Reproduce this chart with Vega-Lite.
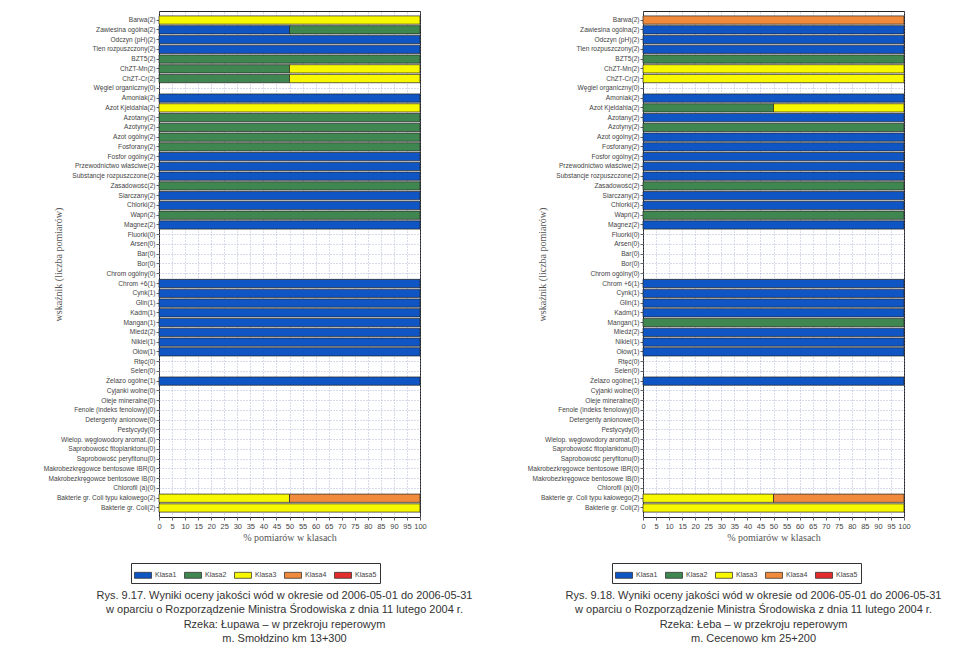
{
  "$schema": "https://vega.github.io/schema/vega-lite/v6.json",
  "background": "white",
  "padding": {"left": 42, "top": 10, "right": 5, "bottom": 5},
  "bounds": "flush",
  "spacing": 223,
  "datasets": {
    "lupawa": [
      {"wskaznik": "Barwa(2)", "klasa": "Klasa3", "procent": 100},
      {"wskaznik": "Zawiesina ogólna(2)", "klasa": "Klasa1", "procent": 50},
      {"wskaznik": "Zawiesina ogólna(2)", "klasa": "Klasa2", "procent": 50},
      {"wskaznik": "Odczyn (pH)(2)", "klasa": "Klasa1", "procent": 100},
      {"wskaznik": "Tlen rozpuszczony(2)", "klasa": "Klasa1", "procent": 100},
      {"wskaznik": "BZT5(2)", "klasa": "Klasa2", "procent": 100},
      {"wskaznik": "ChZT-Mn(2)", "klasa": "Klasa2", "procent": 50},
      {"wskaznik": "ChZT-Mn(2)", "klasa": "Klasa3", "procent": 50},
      {"wskaznik": "ChZT-Cr(2)", "klasa": "Klasa2", "procent": 50},
      {"wskaznik": "ChZT-Cr(2)", "klasa": "Klasa3", "procent": 50},
      {"wskaznik": "Amoniak(2)", "klasa": "Klasa1", "procent": 100},
      {"wskaznik": "Azot Kjeldahla(2)", "klasa": "Klasa3", "procent": 100},
      {"wskaznik": "Azotany(2)", "klasa": "Klasa2", "procent": 100},
      {"wskaznik": "Azotyny(2)", "klasa": "Klasa2", "procent": 100},
      {"wskaznik": "Azot ogólny(2)", "klasa": "Klasa2", "procent": 100},
      {"wskaznik": "Fosforany(2)", "klasa": "Klasa2", "procent": 100},
      {"wskaznik": "Fosfor ogólny(2)", "klasa": "Klasa1", "procent": 100},
      {"wskaznik": "Przewodnictwo właściwe(2)", "klasa": "Klasa1", "procent": 100},
      {"wskaznik": "Substancje rozpuszczone(2)", "klasa": "Klasa1", "procent": 100},
      {"wskaznik": "Zasadowość(2)", "klasa": "Klasa2", "procent": 100},
      {"wskaznik": "Siarczany(2)", "klasa": "Klasa1", "procent": 100},
      {"wskaznik": "Chlorki(2)", "klasa": "Klasa1", "procent": 100},
      {"wskaznik": "Wapń(2)", "klasa": "Klasa2", "procent": 100},
      {"wskaznik": "Magnez(2)", "klasa": "Klasa1", "procent": 100},
      {"wskaznik": "Chrom +6(1)", "klasa": "Klasa1", "procent": 100},
      {"wskaznik": "Cynk(1)", "klasa": "Klasa1", "procent": 100},
      {"wskaznik": "Glin(1)", "klasa": "Klasa1", "procent": 100},
      {"wskaznik": "Kadm(1)", "klasa": "Klasa1", "procent": 100},
      {"wskaznik": "Mangan(1)", "klasa": "Klasa1", "procent": 100},
      {"wskaznik": "Miedź(2)", "klasa": "Klasa1", "procent": 100},
      {"wskaznik": "Nikiel(1)", "klasa": "Klasa1", "procent": 100},
      {"wskaznik": "Ołów(1)", "klasa": "Klasa1", "procent": 100},
      {"wskaznik": "Żelazo ogólne(1)", "klasa": "Klasa1", "procent": 100},
      {"wskaznik": "Bakterie gr. Coli typu kałowego(2)", "klasa": "Klasa3", "procent": 50},
      {"wskaznik": "Bakterie gr. Coli typu kałowego(2)", "klasa": "Klasa4", "procent": 50},
      {"wskaznik": "Bakterie gr. Coli(2)", "klasa": "Klasa3", "procent": 100}
    ],
    "leba": [
      {"wskaznik": "Barwa(2)", "klasa": "Klasa4", "procent": 100},
      {"wskaznik": "Zawiesina ogólna(2)", "klasa": "Klasa1", "procent": 100},
      {"wskaznik": "Odczyn (pH)(2)", "klasa": "Klasa1", "procent": 100},
      {"wskaznik": "Tlen rozpuszczony(2)", "klasa": "Klasa1", "procent": 100},
      {"wskaznik": "BZT5(2)", "klasa": "Klasa2", "procent": 100},
      {"wskaznik": "ChZT-Mn(2)", "klasa": "Klasa3", "procent": 100},
      {"wskaznik": "ChZT-Cr(2)", "klasa": "Klasa3", "procent": 100},
      {"wskaznik": "Amoniak(2)", "klasa": "Klasa1", "procent": 100},
      {"wskaznik": "Azot Kjeldahla(2)", "klasa": "Klasa2", "procent": 50},
      {"wskaznik": "Azot Kjeldahla(2)", "klasa": "Klasa3", "procent": 50},
      {"wskaznik": "Azotany(2)", "klasa": "Klasa1", "procent": 100},
      {"wskaznik": "Azotyny(2)", "klasa": "Klasa2", "procent": 100},
      {"wskaznik": "Azot ogólny(2)", "klasa": "Klasa1", "procent": 100},
      {"wskaznik": "Fosforany(2)", "klasa": "Klasa1", "procent": 100},
      {"wskaznik": "Fosfor ogólny(2)", "klasa": "Klasa1", "procent": 100},
      {"wskaznik": "Przewodnictwo właściwe(2)", "klasa": "Klasa1", "procent": 100},
      {"wskaznik": "Substancje rozpuszczone(2)", "klasa": "Klasa1", "procent": 100},
      {"wskaznik": "Zasadowość(2)", "klasa": "Klasa2", "procent": 100},
      {"wskaznik": "Siarczany(2)", "klasa": "Klasa1", "procent": 100},
      {"wskaznik": "Chlorki(2)", "klasa": "Klasa1", "procent": 100},
      {"wskaznik": "Wapń(2)", "klasa": "Klasa2", "procent": 100},
      {"wskaznik": "Magnez(2)", "klasa": "Klasa1", "procent": 100},
      {"wskaznik": "Chrom +6(1)", "klasa": "Klasa1", "procent": 100},
      {"wskaznik": "Cynk(1)", "klasa": "Klasa1", "procent": 100},
      {"wskaznik": "Glin(1)", "klasa": "Klasa1", "procent": 100},
      {"wskaznik": "Kadm(1)", "klasa": "Klasa1", "procent": 100},
      {"wskaznik": "Mangan(1)", "klasa": "Klasa2", "procent": 100},
      {"wskaznik": "Miedź(2)", "klasa": "Klasa1", "procent": 100},
      {"wskaznik": "Nikiel(1)", "klasa": "Klasa1", "procent": 100},
      {"wskaznik": "Ołów(1)", "klasa": "Klasa1", "procent": 100},
      {"wskaznik": "Żelazo ogólne(1)", "klasa": "Klasa1", "procent": 100},
      {"wskaznik": "Bakterie gr. Coli typu kałowego(2)", "klasa": "Klasa3", "procent": 50},
      {"wskaznik": "Bakterie gr. Coli typu kałowego(2)", "klasa": "Klasa4", "procent": 50},
      {"wskaznik": "Bakterie gr. Coli(2)", "klasa": "Klasa3", "procent": 100}
    ]
  },
  "resolve": {"scale": {"color": "independent"}, "legend": {"color": "independent"}},
  "hconcat": [
    {
      "width": 261,
      "height": 506,
      "data": {"name": "lupawa"},
      "title": {
        "text": [
          "Rys. 9.17. Wyniki oceny jakości wód w okresie od 2006-05-01 do 2006-05-31",
          "w oparciu o Rozporządzenie Ministra Środowiska z dnia 11 lutego 2004 r.",
          "Rzeka: Łupawa – w przekroju reperowym",
          "m. Smołdzino km 13+300"
        ],
        "orient": "bottom",
        "anchor": "middle",
        "dx": -5,
        "offset": 6
      },
      "mark": {"type": "bar", "stroke": "#222", "strokeWidth": 0.7},
      "encoding": {
        "y": {
          "field": "wskaznik",
          "type": "nominal",
          "sort": null,
          "scale": {
            "paddingInner": 0.15,
            "paddingOuter": 0.5,
            "domain": ["Barwa(2)","Zawiesina ogólna(2)","Odczyn (pH)(2)","Tlen rozpuszczony(2)","BZT5(2)","ChZT-Mn(2)","ChZT-Cr(2)","Węgiel organiczny(0)","Amoniak(2)","Azot Kjeldahla(2)","Azotany(2)","Azotyny(2)","Azot ogólny(2)","Fosforany(2)","Fosfor ogólny(2)","Przewodnictwo właściwe(2)","Substancje rozpuszczone(2)","Zasadowość(2)","Siarczany(2)","Chlorki(2)","Wapń(2)","Magnez(2)","Fluorki(0)","Arsen(0)","Bar(0)","Bor(0)","Chrom ogólny(0)","Chrom +6(1)","Cynk(1)","Glin(1)","Kadm(1)","Mangan(1)","Miedź(2)","Nikiel(1)","Ołów(1)","Rtęć(0)","Selen(0)","Żelazo ogólne(1)","Cyjanki wolne(0)","Oleje mineralne(0)","Fenole (indeks fenolowy)(0)","Detergenty anionowe(0)","Pestycydy(0)","Wielop. węglowodory aromat.(0)","Saprobowość fitoplanktonu(0)","Saprobowość peryfitonu(0)","Makrobezkręgowce bentosowe IBR(0)","Makrobezkręgowce bentosowe IB(0)","Chlorofil (a)(0)","Bakterie gr. Coli typu kałowego(2)","Bakterie gr. Coli(2)"]
          },
          "axis": {"title": "wskaźnik (liczba pomiarów)"}
        },
        "x": {
          "field": "procent",
          "type": "quantitative",
          "stack": "zero",
          "scale": {"domain": [0, 100], "nice": false},
          "axis": {"title": "% pomiarów w klasach", "values": [0,5,10,15,20,25,30,35,40,45,50,55,60,65,70,75,80,85,90,95,100]}
        },
        "color": {
          "field": "klasa",
          "type": "nominal",
          "scale": {"domain": ["Klasa1","Klasa2","Klasa3","Klasa4","Klasa5"], "range": ["#0f55c4","#3f8650","#f7f700","#f08a3c","#e32d2d"]},
          "legend": {"title": null, "orient": "none", "direction": "horizontal", "legendX": -28, "legendY": 552}
        },
        "order": {"field": "klasa", "sort": "ascending"}
      }
    },
    {
      "width": 261,
      "height": 506,
      "data": {"name": "leba"},
      "title": {
        "text": [
          "Rys. 9.18. Wyniki oceny jakości wód w okresie od 2006-05-01 do 2006-05-31",
          "w oparciu o Rozporządzenie Ministra Środowiska z dnia 11 lutego 2004 r.",
          "Rzeka: Łeba – w przekroju reperowym",
          "m. Cecenowo km 25+200"
        ],
        "orient": "bottom",
        "anchor": "middle",
        "dx": -20,
        "offset": 6
      },
      "mark": {"type": "bar", "stroke": "#222", "strokeWidth": 0.7},
      "encoding": {
        "y": {
          "field": "wskaznik",
          "type": "nominal",
          "sort": null,
          "scale": {
            "paddingInner": 0.15,
            "paddingOuter": 0.5,
            "domain": ["Barwa(2)","Zawiesina ogólna(2)","Odczyn (pH)(2)","Tlen rozpuszczony(2)","BZT5(2)","ChZT-Mn(2)","ChZT-Cr(2)","Węgiel organiczny(0)","Amoniak(2)","Azot Kjeldahla(2)","Azotany(2)","Azotyny(2)","Azot ogólny(2)","Fosforany(2)","Fosfor ogólny(2)","Przewodnictwo właściwe(2)","Substancje rozpuszczone(2)","Zasadowość(2)","Siarczany(2)","Chlorki(2)","Wapń(2)","Magnez(2)","Fluorki(0)","Arsen(0)","Bar(0)","Bor(0)","Chrom ogólny(0)","Chrom +6(1)","Cynk(1)","Glin(1)","Kadm(1)","Mangan(1)","Miedź(2)","Nikiel(1)","Ołów(1)","Rtęć(0)","Selen(0)","Żelazo ogólne(1)","Cyjanki wolne(0)","Oleje mineralne(0)","Fenole (indeks fenolowy)(0)","Detergenty anionowe(0)","Pestycydy(0)","Wielop. węglowodory aromat.(0)","Saprobowość fitoplanktonu(0)","Saprobowość peryfitonu(0)","Makrobezkręgowce bentosowe IBR(0)","Makrobezkręgowce bentosowe IB(0)","Chlorofil (a)(0)","Bakterie gr. Coli typu kałowego(2)","Bakterie gr. Coli(2)"]
          },
          "axis": {"title": "wskaźnik (liczba pomiarów)"}
        },
        "x": {
          "field": "procent",
          "type": "quantitative",
          "stack": "zero",
          "scale": {"domain": [0, 100], "nice": false},
          "axis": {"title": "% pomiarów w klasach", "values": [0,5,10,15,20,25,30,35,40,45,50,55,60,65,70,75,80,85,90,95,100]}
        },
        "color": {
          "field": "klasa",
          "type": "nominal",
          "scale": {"domain": ["Klasa1","Klasa2","Klasa3","Klasa4","Klasa5"], "range": ["#0f55c4","#3f8650","#f7f700","#f08a3c","#e32d2d"]},
          "legend": {"title": null, "orient": "none", "direction": "horizontal", "legendX": -31, "legendY": 552}
        },
        "order": {"field": "klasa", "sort": "ascending"}
      }
    }
  ],
  "config": {
    "view": {"stroke": "#222", "strokeWidth": 1},
    "font": "Liberation Sans",
    "title": {"font": "Liberation Sans", "fontSize": 11, "fontWeight": "normal", "color": "#333", "lineHeight": 14.5},
    "axis": {
      "labelFont": "Liberation Sans",
      "labelColor": "#444",
      "titleFont": "Liberation Serif",
      "titleFontWeight": "normal",
      "titleFontSize": 10,
      "titleColor": "#555",
      "grid": true,
      "gridColor": "#8f9cc4",
      "gridDash": [1, 2],
      "gridWidth": 0.7,
      "tickColor": "#666",
      "tickSize": 3,
      "domain": false
    },
    "axisY": {"labelFontSize": 6.6, "labelPadding": 1, "titlePadding": -20, "labelLimit": 0},
    "axisX": {"labelFontSize": 7.5, "labelPadding": 2, "titlePadding": 3, "labelFlush": false},
    "legend": {
      "labelFont": "Liberation Sans",
      "labelFontSize": 7,
      "labelColor": "#444",
      "symbolType": "M-1,-0.35H1V0.35H-1Z",
      "symbolSize": 289,
      "symbolStrokeColor": "#222",
      "symbolStrokeWidth": 0.7,
      "symbolOpacity": 1,
      "columnPadding": 6,
      "labelOffset": 3,
      "strokeColor": "#333",
      "fillColor": "white",
      "padding": 3
    }
  }
}
